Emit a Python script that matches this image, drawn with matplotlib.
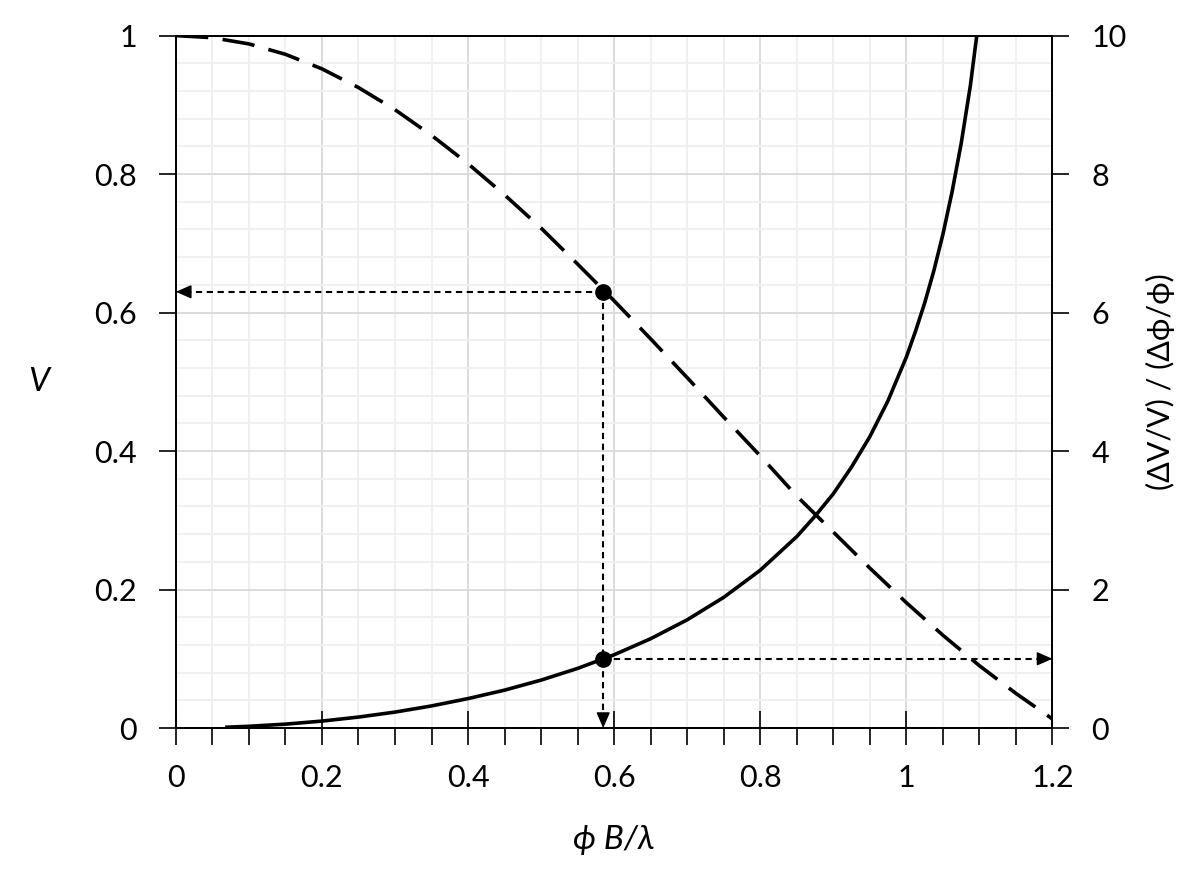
import numpy as np
import matplotlib.pyplot as plt
from matplotlib.ticker import MultipleLocator, FuncFormatter

plt.rcParams['font.family'] = ['Lato', 'DejaVu Sans']

# visibility V (dashed, left axis)
x_vis = [0.0, 0.05, 0.1, 0.15, 0.2, 0.25, 0.3, 0.35, 0.4, 0.45, 0.5, 0.55, 0.6,
         0.65, 0.7, 0.75, 0.8, 0.85, 0.9, 0.95, 1.0, 1.05, 1.1, 1.15, 1.2]
vis = [1.0, 0.997, 0.988, 0.973, 0.952, 0.925, 0.893, 0.856, 0.815, 0.770, 0.722,
       0.670, 0.617, 0.562, 0.506, 0.449, 0.393, 0.335, 0.283, 0.231, 0.181,
       0.134, 0.090, 0.050, 0.013]

# sensitivity (dV/V)/(dphi/phi) (solid, right axis)
x_sens = [0.07, 0.1, 0.15, 0.2, 0.25, 0.3, 0.35, 0.4, 0.45, 0.5, 0.55, 0.6, 0.65,
          0.7, 0.75, 0.8, 0.85, 0.875, 0.9, 0.925, 0.95, 0.975, 1.0, 1.0125,
          1.025, 1.0375, 1.05, 1.0625, 1.075, 1.0875, 1.1]
sens = [0.012, 0.025, 0.056, 0.100, 0.158, 0.230, 0.319, 0.425, 0.547, 0.692,
        0.861, 1.058, 1.290, 1.563, 1.887, 2.279, 2.765, 3.06, 3.383, 3.77,
        4.208, 4.73, 5.358, 5.73, 6.137, 6.60, 7.13, 7.74, 8.44, 9.27, 10.30]

# marked working point
x_pt = 0.585
v_pt = 0.63
s_pt = 1.0

fig = plt.figure(figsize=(11.96, 8.90), dpi=100)
ax = fig.add_axes([0.147, 0.182, 0.733, 0.778])
ax2 = ax.twinx()

ax.set_xlim(0, 1.2)
ax.set_ylim(0, 1)
ax2.set_ylim(0, 10)

fmt = FuncFormatter(lambda v, p: f'{v:g}')
ax.xaxis.set_major_locator(MultipleLocator(0.2))
ax.xaxis.set_minor_locator(MultipleLocator(0.05))
ax.yaxis.set_major_locator(MultipleLocator(0.2))
ax.yaxis.set_minor_locator(MultipleLocator(0.04))
ax2.yaxis.set_major_locator(MultipleLocator(2))
ax.xaxis.set_major_formatter(fmt)
ax.yaxis.set_major_formatter(fmt)
ax2.yaxis.set_major_formatter(fmt)

ax.grid(which='minor', color='#efefef', lw=1.3)
ax.grid(which='major', color='#d9d9d9', lw=1.3)
ax.set_axisbelow(True)

ax.tick_params(axis='x', which='major', direction='inout', length=24, width=1.2,
               labelsize=22, pad=14)
ax.tick_params(axis='x', which='minor', direction='out', length=12, width=1.2)
ax.tick_params(axis='y', which='major', direction='out', length=12, width=1.2,
               labelsize=22, pad=16)
ax.tick_params(axis='y', which='minor', length=0)
ax2.tick_params(axis='y', which='major', direction='out', length=12, width=1.2,
                labelsize=22, pad=16)

for a in (ax, ax2):
    for s in a.spines.values():
        s.set_color('black')
        s.set_linewidth(1.3)

ax.plot(x_vis, vis, color='black', lw=2.6, dashes=(9, 4), zorder=3)
ax2.plot(x_sens, sens, color='black', lw=2.6, zorder=3)

# dotted guide lines with solid arrow heads
guide = dict(color='black', lw=1.5, linestyle=(0, (3, 2.2)), zorder=4)
head = dict(arrowstyle='-|>,head_length=0.8,head_width=0.35', color='black',
            lw=1.0, mutation_scale=12, shrinkA=0, shrinkB=0)
ax.plot([x_pt, 0.008], [v_pt, v_pt], **guide)
ax.annotate('', xy=(0, v_pt), xytext=(0.009, v_pt), arrowprops=head)
ax.plot([x_pt, x_pt], [v_pt, 0.009], **guide)
ax.annotate('', xy=(x_pt, 0), xytext=(x_pt, 0.01), arrowprops=head)
ax2.plot([x_pt, 1.192], [s_pt, s_pt], **guide)
ax2.annotate('', xy=(1.2, s_pt), xytext=(1.191, s_pt), arrowprops=head)

ax.plot([x_pt], [v_pt], 'o', color='black', ms=11, zorder=5)
ax2.plot([x_pt], [s_pt], 'o', color='black', ms=11, zorder=5)

ax.set_xlabel('ϕ B/λ', fontsize=24, style='italic', labelpad=24)
ax.set_ylabel('V', fontsize=24, style='italic', rotation=0, labelpad=40, va='center')
ax2.set_ylabel('(ΔV/V) / (Δϕ/ϕ)', fontsize=22, labelpad=14)

plt.savefig('out.png', dpi=100)
